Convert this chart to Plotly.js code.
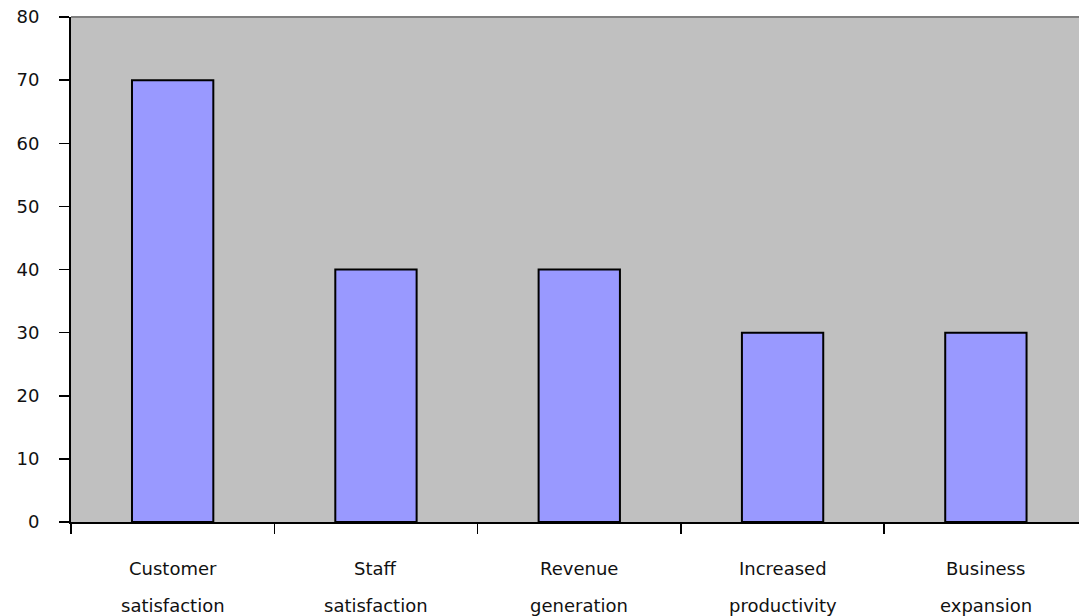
<!DOCTYPE html>
<html>
<head>
<meta charset="utf-8">
<script src="https://cdn.plot.ly/plotly-3.0.1.min.js"></script>
<style>
  html, body { margin: 0; padding: 0; background: #ffffff; }
  #chart { width: 1079px; height: 616px; }
</style>
</head>
<body>
<div id="chart"></div>
<script>
// Business benefits and the share of respondents naming each one
const categories = ["Customer satisfaction", "Staff satisfaction", "Revenue generation", "Increased productivity", "Business expansion"];
const labelLine1 = ["Customer", "Staff", "Revenue", "Increased", "Business"];
const labelLine2 = ["satisfaction", "satisfaction", "generation", "productivity", "expansion"];
const values = [70, 40, 40, 30, 30];
const yTicks = [0, 10, 20, 30, 40, 50, 60, 70, 80];

const FONT = "DejaVu Sans, Verdana, sans-serif";

const trace = {
  type: "bar",
  x: categories,
  y: values,
  width: 0.4,
  marker: { color: "#9999ff", line: { color: "#000000", width: 2 } },
  hoverinfo: "skip"
};

// Two-line category labels with wide line spacing
const annotations = [];
categories.forEach((c, i) => {
  annotations.push({
    x: c, xref: "x", y: -0.093, yref: "paper", yanchor: "middle",
    text: labelLine1[i], showarrow: false,
    font: { family: FONT, size: 18, color: "#111111" }
  });
  annotations.push({
    x: c, xref: "x", y: -0.166, yref: "paper", yanchor: "middle",
    text: labelLine2[i], showarrow: false,
    font: { family: FONT, size: 18, color: "#111111" }
  });
});

const layout = {
  width: 1079,
  height: 616,
  margin: { l: 71, r: 0, t: 17, b: 94 },
  paper_bgcolor: "#ffffff",
  plot_bgcolor: "#c0c0c0",
  showlegend: false,
  bargap: 0.6,
  xaxis: {
    type: "category",
    categoryorder: "array",
    categoryarray: categories,
    range: [-0.5, 4.458],
    tickson: "boundaries",
    ticks: "outside",
    ticklen: 10,
    tickwidth: 1.5,
    tickcolor: "#000000",
    showticklabels: false,
    showgrid: false,
    zeroline: false,
    showline: true,
    linecolor: "#000000",
    linewidth: 2,
    fixedrange: true
  },
  yaxis: {
    range: [0, 80],
    tickvals: yTicks,
    ticktext: yTicks.map(String),
    ticks: "outside",
    ticklen: 10,
    tickwidth: 1.5,
    tickcolor: "#000000",
    ticklabelstandoff: 16,
    tickfont: { family: FONT, size: 18, color: "#111111" },
    showgrid: false,
    zeroline: false,
    showline: true,
    linecolor: "#000000",
    linewidth: 2,
    fixedrange: true
  },
  shapes: [{
    type: "line", xref: "paper", yref: "paper",
    x0: 0, x1: 1, y0: 1, y1: 1,
    line: { color: "#808080", width: 2 }
  }],
  annotations: annotations
};

Plotly.newPlot("chart", [trace], layout, { displayModeBar: false, staticPlot: true });
</script>
</body>
</html>
